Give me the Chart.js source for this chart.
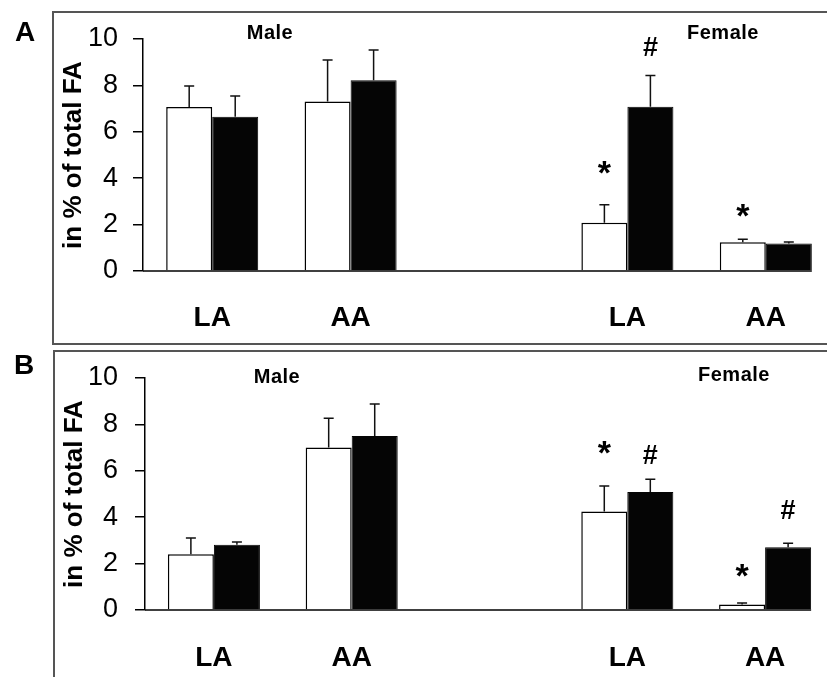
<!DOCTYPE html>
<html>
<head>
<meta charset="utf-8">
<script src="https://cdn.jsdelivr.net/npm/chart.js@4.4.1/dist/chart.umd.min.js"></script>
<style>
  html, body { margin: 0; padding: 0; background: #fff; }
  #page { position: relative; width: 827px; height: 677px; overflow: hidden; background: #fff;
          font-family: "Liberation Sans", Arial, sans-serif; }
  canvas { position: absolute; left: 0; }
  .frame { position: absolute; border: 2px solid #555; border-right: none; pointer-events: none; }
  .txt { position: absolute; font-weight: bold; color: #000; white-space: nowrap; transform: translate(-50%, -50%); }
  .panel { font-size: 28px; }
  .sex { font-size: 20px; letter-spacing: 0.5px; }
</style>
</head>
<body>
<div id="page">
  <canvas id="chartA"></canvas>
  <canvas id="chartB"></canvas>
  <div class="frame" style="left:52px; top:11px; width:790px; height:330px;"></div>
  <div class="frame" style="left:53px; top:350px; width:790px; height:340px;"></div>
  <div class="txt panel" style="left:25px; top:32px;">A</div>
  <div class="txt panel" style="left:24px; top:365px;">B</div>
  <div class="txt sex" style="left:270px; top:32px;">Male</div>
  <div class="txt sex" style="left:723px; top:32px;">Female</div>
  <div class="txt sex" style="left:277px; top:376px;">Male</div>
  <div class="txt sex" style="left:734px; top:374px;">Female</div>
</div>
<script>
'use strict';

// categories: male LA, male AA, gap, female LA, female AA
let categories = ['LA', 'AA', '', 'LA', 'AA'];
let yTicks = [0, 2, 4, 6, 8, 10];

// panel A
let whiteA = [7.07, 7.31, null, 2.08, 1.24];
let whiteErrA = [0.90, 1.78, null, 0.78, 0.13];
let blackA = [6.65, 8.22, null, 7.08, 1.18];
let blackErrA = [0.89, 1.31, null, 1.35, 0.07];
let marksA = [
  { cat: 3, ds: 0, text: '*', y: 4.48 },
  { cat: 3, ds: 1, text: '#', y: 9.66 },
  { cat: 4, ds: 0, text: '*', y: 2.59 }
];

// panel B
let whiteB = [2.40, 7.00, null, 4.25, 0.24];
let whiteErrB = [0.70, 1.27, null, 1.09, 0.06];
let blackB = [2.81, 7.50, null, 5.09, 2.71];
let blackErrB = [0.12, 1.38, null, 0.55, 0.17];
let marksB = [
  { cat: 3, ds: 0, text: '*', y: 7.02 },
  { cat: 3, ds: 1, text: '#', y: 6.72 },
  { cat: 4, ds: 1, text: '#', y: 4.35 },
  { cat: 4, ds: 0, text: '*', y: 1.72 }
];

const fontFamily = '"Liberation Sans", Arial, sans-serif';

// error bars, baseline and significance marks
const extrasPlugin = {
  id: 'extras',
  afterDatasetsDraw(chart, args, opts) {
    const ctx = chart.ctx;
    const yScale = chart.scales.y;
    ctx.save();

    // error bars (upper only)
    ctx.strokeStyle = '#111';
    ctx.lineWidth = 1.5;
    opts.errors.forEach((errs, di) => {
      const meta = chart.getDatasetMeta(di);
      meta.data.forEach((bar, i) => {
        const v = chart.data.datasets[di].data[i];
        if (v === null || errs[i] === null) return;
        const yTop = yScale.getPixelForValue(v + errs[i]);
        ctx.beginPath();
        ctx.moveTo(bar.x, bar.y);
        ctx.lineTo(bar.x, yTop);
        ctx.moveTo(bar.x - 5, yTop);
        ctx.lineTo(bar.x + 5, yTop);
        ctx.stroke();
      });
    });

    // baseline, ends at the last bar
    const lastMeta = chart.getDatasetMeta(chart.data.datasets.length - 1);
    const lastBar = lastMeta.data[lastMeta.data.length - 1];
    const y0 = yScale.getPixelForValue(0);
    ctx.strokeStyle = '#000';
    ctx.lineWidth = 1.5;
    ctx.beginPath();
    ctx.moveTo(chart.chartArea.left, y0);
    ctx.lineTo(lastBar.x + lastBar.width / 2, y0);
    ctx.stroke();

    // * and # marks
    ctx.fillStyle = '#000';
    ctx.textAlign = 'center';
    ctx.textBaseline = 'alphabetic';
    opts.marks.forEach(m => {
      const bar = chart.getDatasetMeta(m.ds).data[m.cat];
      ctx.font = (m.text === '*' ? 'bold 34px ' : 'bold 27px ') + fontFamily;
      const tm = ctx.measureText(m.text);
      const yc = yScale.getPixelForValue(m.y);
      const base = yc + (tm.actualBoundingBoxAscent - tm.actualBoundingBoxDescent) / 2;
      ctx.fillText(m.text, bar.x, base);
    });
    ctx.restore();
  }
};

function makePanel(id, p) {
  const canvas = document.getElementById(id);
  canvas.style.top = p.top + 'px';
  canvas.style.width = p.width + 'px';
  canvas.style.height = p.height + 'px';
  canvas.width = p.width;
  canvas.height = p.height;

  const data = {
    labels: categories,
    datasets: [
      {
        label: 'white',
        data: p.white,
        backgroundColor: '#ffffff',
        borderColor: '#000000',
        borderWidth: 1.5,
        barPercentage: 1,
        categoryPercentage: p.catPct
      },
      {
        label: 'black',
        data: p.black,
        backgroundColor: '#050505',
        borderColor: '#050505',
        borderWidth: 1,
        barPercentage: 1,
        categoryPercentage: p.catPct
      }
    ]
  };

  const config = {
    type: 'bar',
    data: data,
    plugins: [extrasPlugin],
    options: {
      responsive: false,
      animation: false,
      devicePixelRatio: 1,
      layout: { padding: { top: p.padTop, left: 0, right: 0, bottom: 0 } },
      plugins: {
        legend: { display: false },
        tooltip: { enabled: false },
        extras: { errors: [p.whiteErr, p.blackErr], marks: p.marks }
      },
      scales: {
        x: {
          grid: { display: false, drawTicks: false },
          border: { display: false },
          ticks: {
            color: '#000',
            padding: p.xPad,
            font: { family: fontFamily, size: 28, weight: 'bold' }
          },
          afterFit(scale) { scale.height = p.xHeight; }
        },
        y: {
          min: 0,
          max: 10,
          afterBuildTicks(scale) { scale.ticks = yTicks.map(v => ({ value: v })); },
          grid: { drawOnChartArea: false, drawTicks: true, tickLength: 10, color: '#000', lineWidth: 1.5 },
          border: { display: true, color: '#000', width: 1.5 },
          ticks: {
            color: '#000',
            padding: p.yPad,
            font: { family: fontFamily, size: 27 }
          },
          title: {
            display: true,
            text: 'in % of total FA',
            color: '#000',
            padding: { top: p.titlePad, bottom: 0 },
            font: { family: fontFamily, size: 26, weight: 'bold' }
          },
          afterFit(scale) { scale.width = p.yWidth; }
        }
      }
    }
  };

  return new Chart(canvas, config);
}

makePanel('chartA', {
  top: 0, width: 835, height: 344, padTop: 39, xHeight: 73, yWidth: 143,
  xPad: 30, yPad: 15, titlePad: 58, catPct: 0.665,
  white: whiteA, black: blackA, whiteErr: whiteErrA, blackErr: blackErrA, marks: marksA
});

makePanel('chartB', {
  top: 344, width: 834, height: 333, padTop: 34, xHeight: 67, yWidth: 145,
  xPad: 31, yPad: 17, titlePad: 59, catPct: 0.668,
  white: whiteB, black: blackB, whiteErr: whiteErrB, blackErr: blackErrB, marks: marksB
});
</script>
</body>
</html>
